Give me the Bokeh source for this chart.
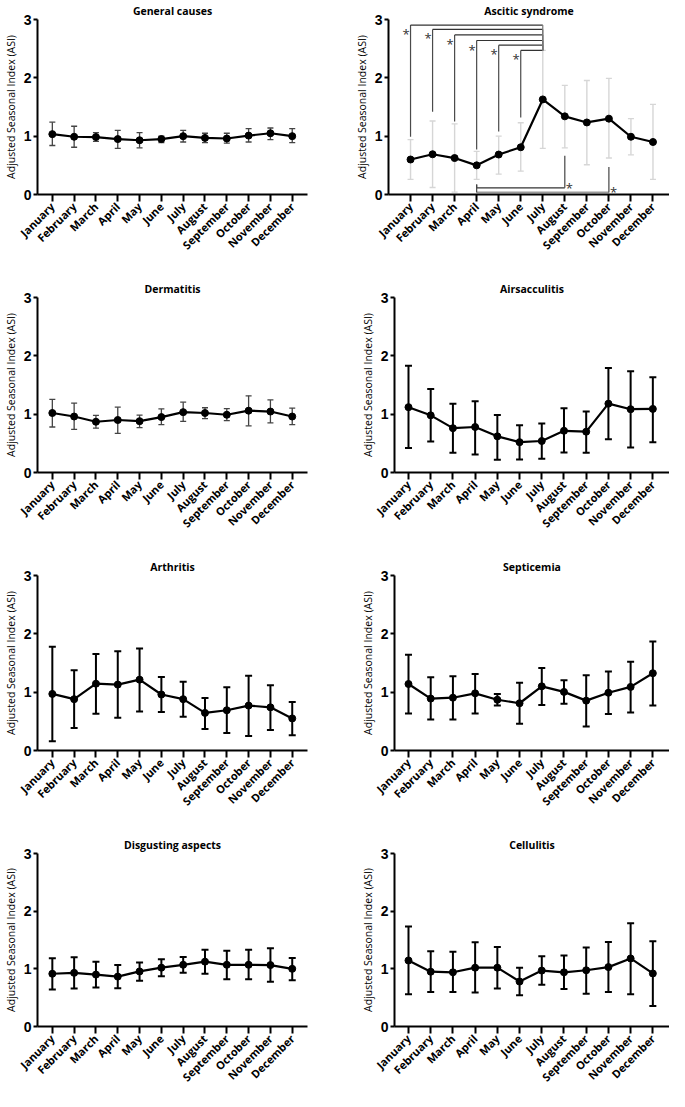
import math
from bokeh.plotting import figure
from bokeh.layouts import column, row
from bokeh.models import ColumnDataSource, Whisker, TeeHead, FixedTicker, Range1d
from bokeh.core.properties import value
from bokeh.embed import file_html
from bokeh.resources import INLINE

months = ["January", "February", "March", "April", "May", "June", "July",
          "August", "September", "October", "November", "December"]
x_idx = list(range(len(months)))
y_ticks = [0, 1, 2, 3]

# General causes
gc_mean = [1.035, 0.99, 0.985, 0.95, 0.93, 0.95, 1.00, 0.97, 0.96, 1.01, 1.05, 1.00]
gc_upper = [1.24, 1.17, 1.06, 1.10, 1.06, 1.00, 1.10, 1.05, 1.05, 1.13, 1.14, 1.13]
gc_lower = [0.84, 0.81, 0.91, 0.79, 0.80, 0.89, 0.90, 0.89, 0.88, 0.90, 0.94, 0.89]

# Ascitic syndrome
as_mean = [0.60, 0.69, 0.625, 0.50, 0.685, 0.81, 1.63, 1.34, 1.235, 1.30, 0.99, 0.90]
as_upper = [0.94, 1.26, 1.21, 0.74, 1.00, 1.23, 2.47, 1.87, 1.955, 1.99, 1.30, 1.545]
as_lower = [0.26, 0.12, 0.04, 0.26, 0.35, 0.40, 0.79, 0.80, 0.51, 0.625, 0.68, 0.26]

# Ascitic syndrome significance brackets (month indices and heights)
sig_top_from = [0, 1, 2, 3, 4, 5]
sig_top_to = 6
sig_top_level = [2.905, 2.83, 2.735, 2.64, 2.56, 2.47]
sig_top_base = [0.99, 1.42, 1.25, 0.77, 1.08, 1.32]
sig_bot_from = [3, 3]
sig_bot_to = [7, 9]
sig_bot_level = [0.115, 0.035]
sig_bot_top = [0.665, 0.47]
sig_bot_left_top = 0.17

# Dermatitis
de_mean = [1.02, 0.96, 0.87, 0.90, 0.88, 0.95, 1.035, 1.02, 0.99, 1.06, 1.045, 0.96]
de_upper = [1.255, 1.19, 0.98, 1.12, 0.985, 1.09, 1.205, 1.11, 1.095, 1.315, 1.245, 1.105]
de_lower = [0.78, 0.74, 0.76, 0.67, 0.77, 0.82, 0.875, 0.925, 0.89, 0.80, 0.85, 0.82]

# Airsacculitis
ai_mean = [1.12, 0.98, 0.76, 0.78, 0.62, 0.52, 0.54, 0.715, 0.70, 1.18, 1.085, 1.09]
ai_upper = [1.83, 1.43, 1.18, 1.22, 0.985, 0.81, 0.84, 1.10, 1.045, 1.79, 1.735, 1.635]
ai_lower = [0.42, 0.53, 0.34, 0.31, 0.22, 0.225, 0.235, 0.345, 0.34, 0.57, 0.43, 0.52]

# Arthritis
ar_mean = [0.97, 0.88, 1.145, 1.13, 1.215, 0.96, 0.88, 0.645, 0.69, 0.77, 0.74, 0.55]
ar_upper = [1.78, 1.375, 1.655, 1.70, 1.75, 1.26, 1.18, 0.90, 1.085, 1.28, 1.12, 0.83]
ar_lower = [0.16, 0.385, 0.63, 0.56, 0.67, 0.66, 0.58, 0.37, 0.30, 0.25, 0.35, 0.26]

# Septicemia
se_mean = [1.14, 0.89, 0.905, 0.98, 0.87, 0.81, 1.10, 1.005, 0.855, 0.99, 1.09, 1.325]
se_upper = [1.64, 1.255, 1.275, 1.31, 0.97, 1.16, 1.415, 1.205, 1.29, 1.355, 1.52, 1.87]
se_lower = [0.635, 0.53, 0.53, 0.635, 0.77, 0.46, 0.78, 0.80, 0.41, 0.625, 0.65, 0.77]

# Disgusting aspects
di_mean = [0.915, 0.93, 0.90, 0.865, 0.955, 1.02, 1.07, 1.125, 1.07, 1.07, 1.065, 1.00]
di_upper = [1.185, 1.20, 1.125, 1.065, 1.11, 1.165, 1.205, 1.33, 1.315, 1.33, 1.355, 1.19]
di_lower = [0.64, 0.66, 0.675, 0.665, 0.795, 0.87, 0.93, 0.915, 0.82, 0.82, 0.775, 0.80]

# Cellulitis
ce_mean = [1.145, 0.95, 0.94, 1.02, 1.02, 0.78, 0.97, 0.94, 0.975, 1.03, 1.18, 0.92]
ce_upper = [1.735, 1.305, 1.295, 1.46, 1.38, 1.02, 1.22, 1.23, 1.37, 1.465, 1.79, 1.48]
ce_lower = [0.56, 0.60, 0.60, 0.59, 0.66, 0.54, 0.725, 0.65, 0.57, 0.60, 0.56, 0.355]

TOP = 16
FRAME_H = 178


def make_panel(title, mean, upper, lower, err_color, err_width, cap, col, last_row,
               x_start=None, wide=False):
    height = 258 if last_row else 278
    bottom = height - TOP - FRAME_H
    if col == 0:
        width, left, right = 344, 32, 37
        xs = -0.68 if x_start is None else x_start
    else:
        width, right = 325, 0
        left = 44 if wide else 50
        xs = -0.63 if x_start is None else x_start
    xe = 11.75 if col == 1 else 11.7
    p = figure(width=width, height=height, x_range=Range1d(xs, xe), y_range=Range1d(0, 3),
               output_backend="svg", toolbar_location=None,
               min_border_left=left, min_border_right=right,
               min_border_top=TOP, min_border_bottom=bottom, title=title)
    p.outline_line_color = None
    p.xgrid.visible = False
    p.ygrid.visible = False
    p.title.text_font = "Open Sans"
    p.title.text_font_size = "10.5px"
    p.title.text_font_style = "bold"
    p.title.align = "center"
    p.title.standoff = 3
    p.title.text_color = "black"

    for ax in (p.xaxis[0], p.yaxis[0]):
        ax.axis_line_width = 2
        ax.axis_line_color = "black"
        ax.major_tick_line_width = 2
        ax.major_tick_line_color = "black"
        ax.minor_tick_line_color = None
        ax.major_tick_in = 0
    xa = p.xaxis[0]
    xa.ticker = FixedTicker(ticks=x_idx)
    xa.major_label_overrides = {i: m for i, m in enumerate(months)}
    xa.major_label_orientation = math.pi / 4
    xa.major_tick_out = 7
    xa.major_label_standoff = 3
    xa.major_label_text_font = "Open Sans"
    xa.major_label_text_font_style = "bold"
    xa.major_label_text_font_size = "11px"
    xa.major_label_text_color = "black"
    ya = p.yaxis[0]
    ya.ticker = FixedTicker(ticks=y_ticks)
    ya.major_tick_out = 4
    ya.major_label_standoff = 2
    ya.major_label_text_font = "Liberation Sans"
    ya.major_label_text_font_style = "bold"
    ya.major_label_text_font_size = "14px"
    ya.major_label_text_color = "black"
    ya.axis_label = "Adjusted Seasonal Index (ASI)"
    ya.axis_label_standoff = 3
    ya.axis_label_text_font = "Open Sans"
    ya.axis_label_text_font_style = "normal"
    ya.axis_label_text_font_size = "10.5px"
    ya.axis_label_text_color = "black"

    src = ColumnDataSource(dict(x=x_idx, mean=mean, upper=upper, lower=lower))
    w = Whisker(source=src, base="x", upper="upper", lower="lower",
                line_color=err_color, line_width=err_width, level="underlay",
                upper_head=TeeHead(size=cap, line_color=err_color, line_width=err_width),
                lower_head=TeeHead(size=cap, line_color=err_color, line_width=err_width))
    p.add_layout(w)
    p.line("x", "mean", source=src, line_color="black", line_width=2.2)
    p.scatter("x", "mean", source=src, size=7, color="black")
    return p


p1 = make_panel("General causes", gc_mean, gc_upper, gc_lower, "#444444", 1.3, 6, 0, False)
p2 = make_panel("Ascitic syndrome", as_mean, as_upper, as_lower, "#d6d6d6", 1.4, 6, 1, False,
                x_start=-1.0, wide=True)
p3 = make_panel("Dermatitis", de_mean, de_upper, de_lower, "#444444", 1.3, 6, 0, False)
p4 = make_panel("Airsacculitis", ai_mean, ai_upper, ai_lower, "black", 2, 7, 1, False)
p5 = make_panel("Arthritis", ar_mean, ar_upper, ar_lower, "black", 2, 7, 0, False)
p6 = make_panel("Septicemia", se_mean, se_upper, se_lower, "black", 2, 7, 1, False)
p7 = make_panel("Disgusting aspects", di_mean, di_upper, di_lower, "black", 2, 7, 0, True)
p8 = make_panel("Cellulitis", ce_mean, ce_upper, ce_lower, "black", 2, 7, 1, True)

# Significance brackets on the Ascitic syndrome panel
n_top = len(sig_top_from)
p2.segment(x0=sig_top_from, y0=sig_top_base, x1=sig_top_from, y1=sig_top_level,
           line_color="#4a4a4a", line_width=1.2)
p2.segment(x0=sig_top_from, y0=sig_top_level, x1=[sig_top_to] * n_top, y1=sig_top_level,
           line_color="#333333", line_width=1.2)
p2.segment(x0=[sig_top_to] * n_top, y0=sig_top_level, x1=[sig_top_to] * n_top,
           y1=[min(sig_top_level)] * n_top, line_color="#777777", line_width=1.2)
p2.text(x=sig_top_from, y=sig_top_level, text=["*"] * n_top, text_align="right",
        text_baseline="top", x_offset=-1, text_font=value("Open Sans"),
        text_font_size="13px", text_color="#333333")

bot_colors = ["#333333", "#9a9a9a"]
n_bot = len(sig_bot_from)
p2.segment(x0=sig_bot_from, y0=sig_bot_level, x1=sig_bot_to, y1=sig_bot_level,
           line_color=bot_colors, line_width=[1.2, 1.8])
p2.segment(x0=sig_bot_to, y0=sig_bot_level, x1=sig_bot_to, y1=sig_bot_top,
           line_color="#444444", line_width=1.2)
p2.segment(x0=sig_bot_from, y0=sig_bot_level, x1=sig_bot_from, y1=[sig_bot_left_top] * n_bot,
           line_color="#444444", line_width=1.2)
p2.text(x=sig_bot_to, y=sig_bot_level, text=["*"] * n_bot, text_align="left",
        text_baseline="middle", x_offset=1, text_font=value("Open Sans"),
        text_font_size="13px", text_color="#333333")

layout = column(row(p1, p2), row(p3, p4), row(p5, p6), row(p7, p8))
open("out.html", "w").write(file_html(layout, INLINE))
